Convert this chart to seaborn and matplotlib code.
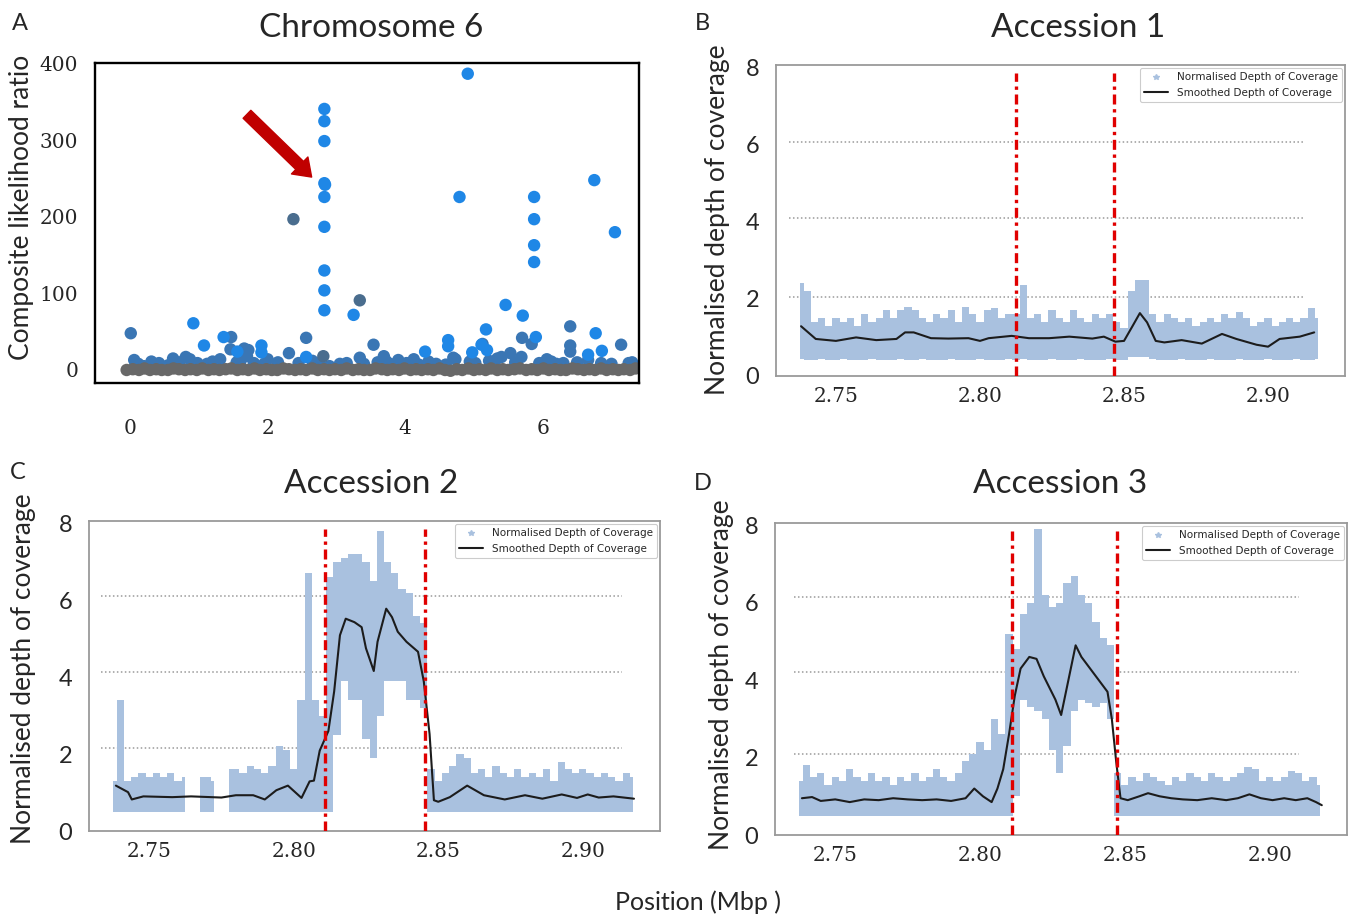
import numpy as np
import pandas as pd
import matplotlib
matplotlib.use("Agg")
import matplotlib.pyplot as plt
from matplotlib.lines import Line2D
import seaborn as sns

sns.set_style("white")
plt.rcParams["font.family"] = ["Lato", "DejaVu Sans"]

W, H = 1351, 917

# ---------------- panel A data (position Mbp, CLR) ----------------
bright_x = [2.825, 2.825, 2.825, 2.825, 2.835, 2.825, 2.825, 2.825, 2.825, 2.825,
            4.91, 4.79, 5.875, 5.875, 5.875, 5.875, 6.75, 7.05, 0.92, 1.075,
            1.36, 1.56, 5.46, 5.71, 5.175, 4.975, 4.29, 4.625, 4.625, 6.77,
            6.86, 5.9, 1.91, 1.91, 6.66, 5.11, 5.19, 2.56, 3.25]
bright_y = [341, 325, 299, 244, 242, 226, 187, 130, 104, 78,
            387, 226, 226, 197, 163, 141, 248, 180, 61, 32,
            43, 24, 85, 71, 53, 23, 24, 39, 31, 48,
            25, 43, 32, 23, 20, 33, 26, 17, 72]

steel_x = [0.01, 2.56, 1.47, 1.46, 3.54, 6.4, 6.4, 6.4, 7.14, 5.84,
           5.7, 5.125, 4.73, 2.31, 1.72, 0.81, 0.06, 0.625, 0.31, 1.31,
           2.0, 3.34, 3.69, 3.9, 4.125, 4.34, 4.59, 5.34, 5.53, 6.125,
           6.66, 7.25, 4.94, 5.69, 6.06, 1.66, 0.87, 3.4, 2.9, 0.2,
           0.12, 0.42, 0.55, 0.72, 0.98, 1.12, 1.2, 1.55, 1.8, 1.95,
           2.15, 2.45, 2.65, 3.05, 3.15, 3.6, 3.78, 4.02, 4.45, 5.02,
           5.22, 5.6, 5.95, 6.2, 6.5, 6.85, 7.0, 7.3, 1.7, 4.7,
           5.4, 1.6, 2.75, 3.72, 4.2, 6.3]
steel_y = [48, 42, 43, 27, 33, 57, 32, 24, 33, 34,
           42, 34, 14, 22, 26, 17, 13, 15, 11, 14,
           14, 16, 18, 13, 14, 11, 7, 15, 22, 11,
           13, 9, 11, 17, 14, 28, 14, 8, 5, 5,
           8, 9, 6, 10, 9, 8, 11, 10, 9, 8,
           10, 9, 12, 8, 9, 10, 8, 9, 8, 9,
           12, 10, 9, 8, 10, 9, 8, 10, 18, 16,
           17, 10, 9, 12, 7, 9]

slate_x = [2.375, 3.34, 2.81]
slate_y = [197, 91, 18]

gray_x = [-0.05, 0.04, 0.13, 0.21, 0.29, 0.38, 0.46, 0.55, 0.63, 0.71,
          0.8, 0.88, 0.97, 1.05, 1.14, 1.22, 1.3, 1.39, 1.47, 1.56,
          1.64, 1.72, 1.81, 1.89, 1.98, 2.06, 2.14, 2.23, 2.31, 2.4,
          2.48, 2.56, 2.65, 2.73, 2.82, 2.9, 2.98, 3.07, 3.15, 3.24,
          3.32, 3.4, 3.49, 3.57, 3.66, 3.74, 3.82, 3.91, 3.99, 4.08,
          4.16, 4.24, 4.33, 4.41, 4.5, 4.58, 4.66, 4.75, 4.83, 4.92,
          5.0, 5.08, 5.17, 5.25, 5.34, 5.42, 5.5, 5.59, 5.67, 5.76,
          5.84, 5.92, 6.01, 6.09, 6.18, 6.26, 6.34, 6.43, 6.51, 6.6,
          6.68, 6.76, 6.85, 6.93, 7.02, 7.1, 7.18, 7.27, 7.35]
gray_y = [0, 1, 0, 2, 0, 1, 0, 0, 2, 1,
          0, 1, 0, 2, 0, 1, 0, 1, 2, 0,
          1, 0, 2, 0, 1, 0, 0, 2, 1, 0,
          1, 0, 2, 0, 1, 0, 1, 0, 2, 0,
          1, 0, 0, 2, 1, 0, 1, 0, 2, 0,
          1, 0, 1, 0, 2, 0, -1, 1, 0, 2,
          0, 1, 0, 2, 0, 1, 0, 1, 2, 0,
          1, 0, 2, 0, 1, 0, 0, 2, 1, 0,
          1, 0, 2, 0, 1, 0, 1, 0, 2]

# ---------------- coverage data (Mbp) ----------------
bins = np.round(np.arange(2.7375, 2.9176, 0.0025), 4)   # 73 windows
nan = np.nan

acc1_upper = [2.4, 2.2, 1.4, 1.5, 1.3, 1.5, 1.4, 1.5, 1.3, 1.6,
              1.4, 1.5, 1.7, 1.5, 1.7, 1.8, 1.7, 1.5, 1.4, 1.6,
              1.5, 1.7, 1.4, 1.8, 1.6, 1.4, 1.7, 1.75, 1.5, 1.6,
              1.6, 2.35, 1.5, 1.6, 1.4, 1.7, 1.5, 1.4, 1.7, 1.5,
              1.4, 1.6, 1.5, 1.6, 1.4, 1.25, 2.2, 2.5, 2.5, 1.6,
              1.4, 1.6, 1.5, 1.4, 1.5, 1.3, 1.4, 1.5, 1.4, 1.6,
              1.5, 1.65, 1.5, 1.3, 1.4, 1.5, 1.3, 1.4, 1.5, 1.4,
              1.5, 1.75, 1.5]
acc1_lower = [0.45, 0.42, 0.42, 0.45, 0.42, 0.42, 0.45, 0.42, 0.42, 0.42,
              0.45, 0.42, 0.42, 0.42, 0.45, 0.42, 0.42, 0.45, 0.42, 0.42,
              0.42, 0.45, 0.42, 0.42, 0.42, 0.45, 0.42, 0.42, 0.42, 0.45,
              0.42, 0.45, 0.42, 0.42, 0.42, 0.45, 0.42, 0.42, 0.42, 0.45,
              0.42, 0.42, 0.42, 0.45, 0.42, 0.42, 0.48, 0.5, 0.48, 0.45,
              0.42, 0.42, 0.42, 0.45, 0.42, 0.42, 0.42, 0.45, 0.42, 0.42,
              0.42, 0.45, 0.42, 0.42, 0.42, 0.45, 0.42, 0.42, 0.42, 0.45,
              0.42, 0.42, 0.45]
acc1_sx = [2.7379, 2.743, 2.75, 2.757, 2.764, 2.771, 2.774, 2.777, 2.783, 2.789,
           2.796, 2.80, 2.803, 2.811, 2.817, 2.824, 2.831, 2.839, 2.843, 2.847,
           2.85, 2.853, 2.8555, 2.858, 2.861, 2.864, 2.87, 2.877, 2.884, 2.889,
           2.896, 2.90, 2.904, 2.911, 2.916]
acc1_sy = [1.29, 0.96, 0.91, 1.0, 0.93, 0.96, 1.13, 1.13, 0.98, 0.97,
           0.98, 0.91, 0.98, 1.04, 0.98, 0.98, 1.02, 0.97, 1.02, 0.89,
           0.91, 1.3, 1.63, 1.39, 0.91, 0.87, 0.93, 0.84, 1.09, 0.96,
           0.81, 0.76, 0.96, 1.02, 1.13]

acc2_upper = [1.3, 3.4, 1.3, 1.4, 1.5, 1.4, 1.5, 1.4, 1.5, 1.3,
              1.4, nan, 1.4, 1.4, 1.3, nan, 1.6, 1.6, 1.5, 1.7,
              1.6, 1.5, 1.7, 2.2, 2.1, 1.6, 3.4, 6.7, 3.4, 3.0,
              6.6, 7.0, 7.1, 7.2, 7.2, 7.0, 6.5, 7.8, 7.0, 6.7,
              6.3, 6.2, 5.6, 5.4, 1.6, 1.3, 1.5, 1.7, 2.0, 1.9,
              1.5, 1.6, 1.4, 1.7, 1.5, 1.4, 1.6, 1.4, 1.5, 1.4,
              1.6, 1.3, 1.8, 1.6, 1.5, 1.6, 1.5, 1.4, 1.5, 1.4,
              1.3, 1.5, 1.4]
acc2_lower = [0.5, 0.5, 0.5, 0.5, 0.5, 0.5, 0.5, 0.5, 0.5, 0.5,
              0.5, nan, 0.5, 0.5, 0.5, nan, 0.5, 0.5, 0.5, 0.5,
              0.5, 0.5, 0.5, 0.5, 0.5, 0.5, 0.5, 0.5, 0.5, 0.5,
              0.5, 2.5, 3.9, 3.4, 3.4, 2.4, 1.9, 3.0, 3.9, 3.9,
              3.9, 3.4, 3.4, 3.2, 0.5, 0.5, 0.5, 0.5, 0.5, 0.5,
              0.5, 0.5, 0.5, 0.5, 0.5, 0.5, 0.5, 0.5, 0.5, 0.5,
              0.5, 0.5, 0.5, 0.5, 0.5, 0.5, 0.5, 0.5, 0.5, 0.5,
              0.5, 0.5, 0.5]
acc2_sx = [2.7385, 2.7427, 2.744, 2.748, 2.758, 2.7645, 2.775, 2.78, 2.786, 2.79,
           2.794, 2.798, 2.8027, 2.8055, 2.807, 2.809, 2.812, 2.814, 2.816, 2.818,
           2.821, 2.8235, 2.825, 2.8277, 2.829, 2.832, 2.834, 2.836, 2.839, 2.843,
           2.845, 2.847, 2.8485, 2.85, 2.854, 2.86, 2.8658, 2.873, 2.88, 2.886,
           2.8927, 2.898, 2.9017, 2.9055, 2.9106, 2.9177]
acc2_sy = [1.18, 1.01, 0.82, 0.9, 0.88, 0.9, 0.87, 0.93, 0.93, 0.82,
           1.06, 1.18, 0.86, 1.29, 1.31, 2.09, 2.6, 3.63, 5.09, 5.52,
           5.43, 5.3, 4.75, 4.16, 4.92, 5.78, 5.56, 5.18, 4.92, 4.66,
           3.89, 2.52, 0.8, 0.76, 0.88, 1.18, 0.93, 0.82, 0.93, 0.84,
           0.95, 0.86, 0.95, 0.87, 0.9, 0.84]

acc3_upper = [1.4, 1.8, 1.5, 1.6, 1.3, 1.5, 1.4, 1.7, 1.5, 1.4,
              1.6, 1.4, 1.5, 1.3, 1.5, 1.4, 1.6, 1.4, 1.5, 1.7,
              1.5, 1.4, 1.6, 1.9, 2.1, 2.4, 2.2, 3.0, 2.6, 5.2,
              4.8, 5.7, 6.0, 7.9, 6.2, 5.9, 6.0, 6.5, 6.7, 6.2,
              6.0, 5.5, 5.1, 4.9, 1.6, 1.3, 1.5, 1.4, 1.6, 1.5,
              1.4, 1.3, 1.5, 1.4, 1.6, 1.5, 1.4, 1.6, 1.5, 1.4,
              1.5, 1.6, 1.75, 1.7, 1.4, 1.5, 1.4, 1.5, 1.65, 1.6,
              1.4, 1.5, 1.3]
acc3_lower = [0.5, 0.5, 0.5, 0.5, 0.5, 0.5, 0.5, 0.5, 0.5, 0.5,
              0.5, 0.5, 0.5, 0.5, 0.5, 0.5, 0.5, 0.5, 0.5, 0.5,
              0.5, 0.5, 0.5, 0.5, 0.5, 0.5, 0.5, 0.5, 0.5, 0.5,
              1.0, 3.5, 3.3, 3.2, 3.0, 2.2, 1.6, 2.3, 3.2, 3.5,
              3.4, 3.3, 3.4, 3.0, 0.5, 0.5, 0.5, 0.5, 0.5, 0.5,
              0.5, 0.5, 0.5, 0.5, 0.5, 0.5, 0.5, 0.5, 0.5, 0.5,
              0.5, 0.5, 0.5, 0.5, 0.5, 0.5, 0.5, 0.5, 0.5, 0.5,
              0.5, 0.5, 0.5]
acc3_sx = [2.7385, 2.742, 2.745, 2.75, 2.755, 2.76, 2.765, 2.77, 2.775, 2.78,
           2.785, 2.79, 2.795, 2.798, 2.801, 2.804, 2.806, 2.808, 2.81, 2.812,
           2.814, 2.817, 2.8195, 2.822, 2.824, 2.826, 2.828, 2.8305, 2.833, 2.835,
           2.838, 2.841, 2.844, 2.8455, 2.847, 2.8485, 2.851, 2.855, 2.858, 2.862,
           2.866, 2.87, 2.875, 2.88, 2.885, 2.889, 2.893, 2.897, 2.901, 2.905,
           2.909, 2.913, 2.916, 2.918]
acc3_sy = [0.95, 0.98, 0.88, 0.92, 0.85, 0.92, 0.9, 0.95, 0.92, 0.9,
           0.92, 0.88, 0.95, 1.2, 1.0, 0.85, 1.2, 1.7, 2.6, 3.6,
           4.3, 4.6, 4.55, 4.1, 3.8, 3.5, 3.1, 4.0, 4.9, 4.6,
           4.3, 4.0, 3.7, 3.0, 1.9, 0.95, 0.9, 1.0, 1.08, 1.0,
           0.95, 0.92, 0.9, 0.95, 0.9, 0.95, 1.05, 0.95, 0.9, 0.95,
           0.9, 0.95, 0.85, 0.77]

# boundaries of the duplicated region
acc1_cuts = [2.8125, 2.8465]
acc2_cuts = [2.811, 2.8455]
acc3_cuts = [2.8111, 2.8472]

BAND = "#a9c1df"
SERIF = "DejaVu Serif"


def px_rect(l, t, r, b):
    return [l / W, 1 - b / H, (r - l) / W, (b - t) / H]


fig = plt.figure(figsize=(W / 100, H / 100), dpi=100)

# ---------------- A ----------------
axA = fig.add_axes(px_rect(95, 63, 639, 383))
df = pd.concat([
    pd.DataFrame({"pos": steel_x, "clr": steel_y, "grp": "steel"}),
    pd.DataFrame({"pos": slate_x, "clr": slate_y, "grp": "slate"}),
    pd.DataFrame({"pos": bright_x, "clr": bright_y, "grp": "bright"}),
    pd.DataFrame({"pos": gray_x, "clr": gray_y, "grp": "gray"}),
], ignore_index=True)
sns.scatterplot(data=df, x="pos", y="clr", hue="grp", ax=axA, s=80, linewidth=0,
                palette={"steel": "#3a76b4", "slate": "#4a6d8e",
                         "bright": "#1f87e6", "gray": "#686868"},
                legend=False, clip_on=True)
axA.annotate("", xy=(2.64, 252), xytext=(1.7, 334),
             arrowprops=dict(facecolor="#c00000", edgecolor="#c00000",
                             width=8, headwidth=17, headlength=12))
axA.set_xlim(-0.51, 7.4)
axA.set_ylim(-17, 401)
axA.set_xlabel("")
axA.set_ylabel("")
axA.set_xticks([0, 2, 4, 6])
axA.set_xticklabels(["0", "2", "4", "6"], fontfamily=SERIF, fontsize=14.5)
axA.set_yticks([0, 100, 200, 300, 400])
axA.set_yticklabels(["0", "100", "200", "300", "400"], fontfamily=SERIF, fontsize=14.5)
axA.tick_params(axis="x", direction="out", length=12, width=1.2, pad=14, color="black")
axA.tick_params(axis="y", direction="out", length=6, width=1.2, pad=6, color="black")
for sp in axA.spines.values():
    sp.set_color("black")
    sp.set_linewidth(1.7)


# ---------------- coverage panels ----------------
def coverage(ax, upper, lower, sx, sy, cuts, grid_levels, gx):
    ax.fill_between(bins, lower, upper, step="mid", color=BAND, linewidth=0, zorder=1)
    for g in grid_levels:
        ax.hlines(g, gx[0], gx[1], colors="#9a9a9a", linestyles=(0, (1, 1.6)),
                  linewidth=1.1, zorder=0.5)
    sns.lineplot(x=sx, y=sy, ax=ax, color="#1c1c1c", linewidth=1.5,
                 estimator=None, zorder=2)
    for c in cuts:
        ax.axvline(c, ymin=0, ymax=0.975, color="#e00000", linewidth=2.4,
                   linestyle=(0, (3, 1.4, 1, 1.4)), zorder=3)
    ax.set_xlim(2.7292, 2.9267)
    ax.set_ylim(0, 8.06)
    ax.set_xticks([2.75, 2.80, 2.85, 2.90])
    ax.set_xticklabels(["2.75", "2.80", "2.85", "2.90"], fontfamily=SERIF, fontsize=14.5)
    ax.set_xticks([2.775, 2.825, 2.875, 2.925], minor=True)
    ax.set_yticks([0, 2, 4, 6, 8])
    ax.set_yticklabels(["0", "2", "4", "6", "8"], fontsize=17)
    ax.set_yticks([1, 3, 5, 7], minor=True)
    ax.tick_params(axis="both", which="both", direction="out", length=4,
                   width=1, color="#8a8a8a")
    ax.tick_params(axis="x", pad=4)
    ax.tick_params(axis="y", pad=8)
    for sp in ax.spines.values():
        sp.set_color("#9a9a9a")
        sp.set_linewidth(1.3)
    handles = [Line2D([], [], linestyle="none", marker="*", markersize=4, color=BAND,
                      label="Normalised Depth of Coverage"),
               Line2D([], [], color="#1c1c1c", linewidth=1.5,
                      label="Smoothed Depth of Coverage")]
    leg = ax.legend(handles=handles, loc="upper right", fontsize=7.5, frameon=True,
                    framealpha=1, edgecolor="#cccccc", borderaxespad=0.3,
                    handlelength=2.3, prop={"family": "DejaVu Sans", "size": 7.5})
    leg.get_frame().set_linewidth(0.8)


axB = fig.add_axes(px_rect(776, 65, 1345, 376))
coverage(axB, acc1_upper, acc1_lower, acc1_sx, acc1_sy, acc1_cuts,
         [2.05, 4.09, 6.06], (2.7337, 2.9125))

axC = fig.add_axes(px_rect(89, 521, 660, 831))
coverage(axC, acc2_upper, acc2_lower, acc2_sx, acc2_sy, acc2_cuts,
         [2.15, 4.13, 6.11], (2.7335, 2.9135))

axD = fig.add_axes(px_rect(775, 523, 1347, 835))
coverage(axD, acc3_upper, acc3_lower, acc3_sx, acc3_sy, acc3_cuts,
         [2.08, 4.22, 6.16], (2.7358, 2.9101))

# ---------------- text ----------------
def ftext(x, y, s, **kw):
    fig.text(x / W, 1 - y / H, s, **kw)


ftext(371, 28, "Chromosome 6", fontsize=24, ha="center", va="center")
ftext(1078, 28, "Accession 1", fontsize=24, ha="center", va="center")
ftext(371, 484, "Accession 2", fontsize=24, ha="center", va="center")
ftext(1060, 484, "Accession 3", fontsize=24, ha="center", va="center")

ftext(20, 24, "A", fontsize=17, ha="center", va="center")
ftext(702, 24, "B", fontsize=17, ha="center", va="center")
ftext(18, 472, "C", fontsize=17, ha="center", va="center")
ftext(703, 483, "D", fontsize=17, ha="center", va="center")

ftext(22, 207, "Composite likelihood ratio", fontsize=19, rotation=90,
      ha="center", va="center")
ftext(718, 220, "Normalised depth of coverage", fontsize=19, rotation=90,
      ha="center", va="center")
ftext(24, 669, "Normalised depth of coverage", fontsize=19, rotation=90,
      ha="center", va="center")
ftext(721, 675, "Normalised depth of coverage", fontsize=19, rotation=90,
      ha="center", va="center")
ftext(698, 902, "Position (Mbp )", fontsize=18, ha="center", va="center")

fig.savefig("out.png", dpi=100, facecolor="white")
